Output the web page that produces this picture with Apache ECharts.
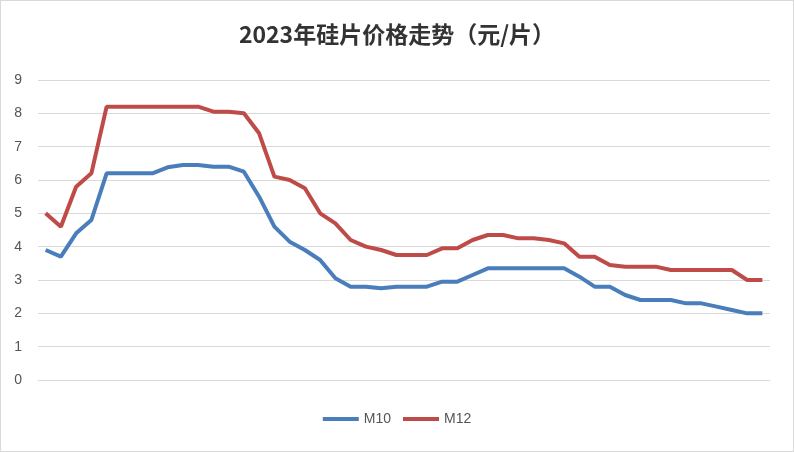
<!DOCTYPE html><html><head><meta charset="utf-8"><script src="https://cdn.jsdelivr.net/npm/echarts@6/dist/echarts.min.js"></script></head><body style="margin:0"><div id="c" style="width:794px;height:452px;box-sizing:border-box;border:1px solid #d9d9d9"></div><script>
const categories = Array.from({length:48},(_,i)=>'W'+(i+1));
const m10 = [3.9,3.7,4.4,4.8,6.2,6.2,6.2,6.2,6.38,6.45,6.45,6.4,6.4,6.25,5.5,4.6,4.15,3.9,3.6,3.05,2.8,2.8,2.75,2.8,2.8,2.8,2.95,2.95,3.15,3.35,3.35,3.35,3.35,3.35,3.35,3.1,2.8,2.8,2.55,2.4,2.4,2.4,2.3,2.3,2.2,2.1,2.0,2.0];
const m12 = [5.0,4.6,5.8,6.2,8.2,8.2,8.2,8.2,8.2,8.2,8.2,8.05,8.05,8.0,7.4,6.1,6.0,5.75,5.0,4.7,4.2,4.0,3.9,3.75,3.75,3.75,3.95,3.95,4.2,4.35,4.35,4.25,4.25,4.2,4.1,3.7,3.7,3.45,3.4,3.4,3.4,3.3,3.3,3.3,3.3,3.3,3.0,3.0];
const ch = echarts.init(document.getElementById('c'));
ch.setOption({
 backgroundColor:'#fff',
 title:{text:'2023年硅片价格走势（元/片）',left:'center',top:17,textStyle:{fontFamily:'Noto Sans CJK SC',fontSize:23,fontWeight:'bold',color:'#333'}},
 legend:{bottom:20,itemWidth:36,itemHeight:4,icon:'rect',itemGap:12,textStyle:{fontSize:14,color:'#555'},data:['M10','M12']},
 grid:{left:37,right:23,top:79,bottom:71},
 xAxis:{type:'category',data:categories,axisLabel:{show:false},axisTick:{show:false},axisLine:{lineStyle:{color:'#d9d9d9'}}},
 yAxis:{type:'value',min:0,max:9,interval:1,axisLabel:{fontSize:14,color:'#555',margin:16},splitLine:{lineStyle:{color:'#d9d9d9'}}},
 series:[
  {name:'M10',type:'line',data:m10,symbol:'none',lineStyle:{width:4,color:'#4a7ebb'},itemStyle:{color:'#4a7ebb'}},
  {name:'M12',type:'line',data:m12,symbol:'none',lineStyle:{width:4,color:'#be4b48'},itemStyle:{color:'#be4b48'}}
 ]
});
</script></body></html>
